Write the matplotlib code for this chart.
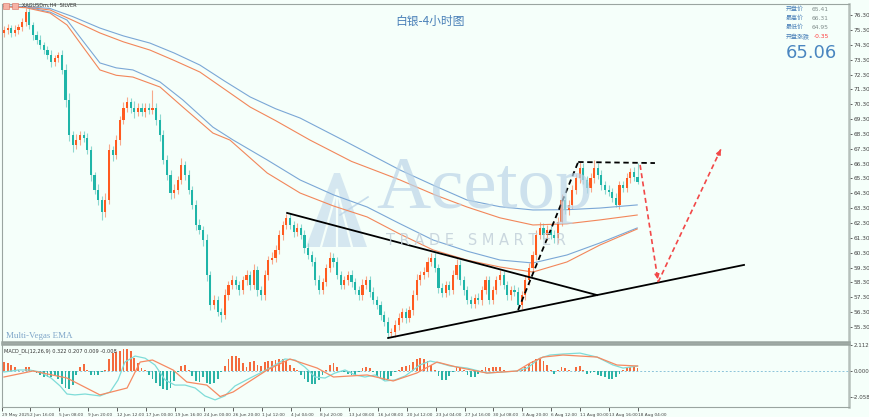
import matplotlib
matplotlib.use("Agg")
import matplotlib.pyplot as plt
import numpy as np
from matplotlib.patches import Rectangle, Polygon

plt.rcParams['font.family'] = ['DejaVu Sans', 'Noto Sans CJK SC']

# ---- data (4H silver, one candle = 2 bars) ----
first_open = 75.10
closes = [
    75.30, 75.43, 75.10, 75.30, 75.50, 75.84, 76.51, 75.64, 74.96, 74.63,
    74.29, 73.95, 73.62, 73.15, 73.41, 73.62, 72.61, 70.59, 68.23, 67.56,
    67.89, 68.23, 68.03, 67.22, 65.54, 64.53, 63.85, 63.04, 63.85, 67.22,
    66.88, 67.89, 69.24, 70.05, 70.45, 70.05, 69.78, 70.05, 69.78, 70.05,
    69.91, 70.05, 69.24, 68.23, 66.55, 65.54, 64.32, 64.53, 65.20, 66.21,
    65.54, 64.53, 63.52, 62.17, 61.83, 61.16, 58.80, 56.78, 57.12, 56.31,
    56.11, 57.45, 58.13, 58.46, 58.13, 57.79, 58.46, 58.80, 58.13, 59.14,
    57.79, 57.45, 58.80, 59.81, 59.95, 60.49, 61.50, 62.17, 62.64, 62.17,
    61.70, 61.97, 61.50, 60.62, 60.15, 59.68, 58.46, 57.79, 58.33, 59.27,
    59.95, 59.68, 58.80, 58.13, 58.46, 58.80, 58.33, 57.79, 57.45, 58.13,
    58.46, 57.66, 57.12, 56.78, 56.11, 55.64, 54.90, 54.96, 55.43, 55.91,
    56.31, 55.91, 56.44, 57.45, 58.46, 58.80, 59.00, 59.68, 59.95, 59.27,
    57.93, 57.59, 58.13, 57.79, 58.80, 59.48, 58.46, 57.79, 57.12, 56.85,
    57.25, 57.12, 57.79, 58.46, 57.12, 57.79, 58.46, 58.80, 58.13, 57.45,
    57.79, 57.66, 56.78, 57.45, 58.46, 59.27, 60.15, 61.50, 61.97, 61.50,
    61.83, 61.50, 61.29, 62.37, 63.85, 63.18, 63.52, 64.53, 65.33, 66.01,
    65.20, 64.66, 65.33, 66.01, 65.54, 64.86, 64.53, 64.39, 63.99, 63.52,
    64.86, 64.66, 65.33, 65.74, 65.41, 65.06,
]
upper_wick = [
    0.25, 0.3, 0.2, 0.35, 0.2, 0.3, 0.3, 0.4, 0.2, 0.25,
    0.3, 0.2, 0.25, 0.3, 0.2, 0.2, 0.3, 0.4, 0.5, 0.3,
    0.4, 0.3, 0.25, 0.35, 0.3, 0.2, 0.4, 0.3, 0.5, 0.4,
    0.3, 0.35, 0.3, 0.4, 0.35, 0.3, 0.45, 0.3, 0.35, 0.3,
    0.3, 1.2, 0.3, 0.4, 0.35, 0.3, 0.3, 0.4, 0.3, 0.45,
    0.3, 0.3, 0.25, 0.3, 0.4, 0.3, 0.4, 0.3, 0.35, 0.3,
    0.25, 0.4, 0.3, 0.35, 0.3, 0.3, 0.3, 0.35, 0.3, 0.4,
    0.3, 0.25, 0.35, 0.3, 0.4, 0.3, 0.35, 0.3, 0.3, 0.35,
    0.3, 0.3, 0.25, 0.3, 0.35, 0.3, 0.3, 0.35, 0.3, 0.3,
    0.4, 0.3, 0.3, 0.25, 0.3, 0.3, 0.35, 0.3, 0.3, 0.4,
    0.3, 0.25, 0.3, 0.3, 0.3, 0.25, 0.3, 0.3, 0.35, 0.3,
    0.3, 0.3, 0.3, 0.35, 0.4, 0.3, 0.35, 0.3, 0.3, 0.35,
    0.3, 0.3, 0.3, 0.3, 0.35, 0.4, 0.3, 0.3, 0.3, 0.25,
    0.3, 0.35, 0.3, 0.3, 0.25, 0.3, 0.3, 0.35, 0.3, 0.3,
    0.3, 0.35, 0.3, 0.3, 0.3, 0.35, 0.3, 0.3, 0.4, 0.3,
    0.35, 0.3, 0.3, 0.35, 0.4, 0.3, 0.3, 0.35, 0.3, 0.4,
    0.3, 0.3, 0.35, 0.55, 0.3, 0.3, 0.3, 0.35, 0.3, 0.3,
    0.3, 0.3, 0.35, 0.3, 0.35, 0.9,
]
lower_wick = [
    0.3, 0.25, 0.3, 0.2, 0.3, 0.25, 0.3, 0.3, 0.35, 0.3,
    0.25, 0.3, 0.3, 0.35, 0.3, 0.25, 0.3, 0.5, 0.4, 0.45,
    0.3, 0.35, 0.3, 0.3, 0.4, 0.3, 0.35, 0.55, 0.3, 0.3,
    0.4, 0.3, 0.35, 0.3, 0.3, 0.35, 0.4, 0.3, 0.3, 0.35,
    0.3, 0.3, 0.35, 0.4, 0.3, 0.35, 0.4, 0.3, 0.3, 0.3,
    0.35, 0.3, 0.3, 0.35, 0.3, 0.4, 0.4, 0.35, 0.3, 0.3,
    0.47, 0.3, 0.35, 0.3, 0.3, 0.35, 0.3, 0.3, 0.35, 0.3,
    0.4, 0.3, 0.3, 0.35, 0.3, 0.3, 0.3, 0.35, 0.3, 0.3,
    0.35, 0.3, 0.3, 0.35, 0.3, 0.3, 0.35, 0.3, 0.3, 0.3,
    0.3, 0.35, 0.3, 0.3, 0.3, 0.3, 0.35, 0.3, 0.3, 0.3,
    0.3, 0.35, 0.3, 0.3, 0.35, 0.3, 0.34, 0.3, 0.3, 0.3,
    0.3, 0.35, 0.3, 0.3, 0.3, 0.3, 0.3, 0.35, 0.3, 0.3,
    0.35, 0.3, 0.3, 0.35, 0.3, 0.3, 0.3, 0.35, 0.3, 0.3,
    0.3, 0.3, 0.35, 0.3, 0.3, 0.3, 0.3, 0.35, 0.3, 0.3,
    0.3, 0.3, 0.34, 0.3, 0.3, 0.3, 0.3, 0.35, 0.3, 0.3,
    0.35, 0.3, 0.3, 0.3, 0.3, 0.3, 0.35, 0.3, 0.3, 0.3,
    0.3, 0.35, 0.3, 0.3, 0.3, 0.35, 0.3, 0.3, 0.3, 0.14,
    0.3, 0.3, 0.3, 0.35, 0.3, 0.11,
]

# Vegas tunnel EMAs, (candle index, price) knots
ema_a_idx = [0, 6, 12.7, 19, 26.5, 33, 40.3, 47, 54.1, 61, 68, 75, 81.8, 93.6, 109.4, 119,
             127.9, 137, 146.1, 155.5, 164.6, 174.9]
ema_a_val = [76.90, 76.87, 76.75, 76.20, 75.43, 74.90, 74.42, 73.75, 72.94, 71.85, 70.79,
             70.00, 69.37, 67.89, 65.87, 64.80, 63.85, 63.40, 63.18, 63.20, 63.31, 63.52]
ema_b_idx = [0, 6, 12.7, 19, 26.5, 33, 40.3, 47, 54.1, 61, 68, 75, 84.5, 96, 109.4, 119,
             127.9, 137, 146.1, 155.5, 164.6, 174.9]
ema_b_val = [76.88, 76.84, 76.65, 75.95, 75.10, 74.50, 73.95, 73.25, 72.47, 71.30, 70.11,
             69.20, 67.89, 66.45, 65.20, 64.20, 63.38, 62.65, 62.17, 62.25, 62.51, 62.84]
ema_c_idx = [0, 6, 12.7, 17.4, 22, 26.5, 31, 35.6, 43.1, 49.4, 57.7, 63.3, 72.7, 81.8,
             91, 100.3, 109, 118.5, 128, 137, 146.1, 155.5, 164.6, 174.9]
ema_c_val = [76.90, 76.85, 76.51, 75.97, 74.50, 73.08, 72.75, 72.61, 71.80, 70.59, 68.76,
             67.89, 66.55, 65.20, 64.20, 63.38, 62.30, 61.16, 60.40, 59.81, 59.61, 60.15,
             60.96, 61.97]
ema_d_idx = [0, 6, 12.7, 17.4, 22, 26.5, 31, 35.6, 43.1, 49.4, 57.7, 62.4, 72.7, 81.8,
             91, 100.3, 109, 118.5, 128, 137, 146.1, 155.5, 164.6, 174.9]
ema_d_val = [76.86, 76.80, 76.44, 75.64, 74.10, 72.61, 72.25, 72.13, 71.46, 70.11, 68.36,
             67.89, 65.67, 64.32, 63.45, 62.71, 61.60, 60.49, 59.80, 59.34, 59.00, 59.68,
             60.82, 61.90]

# MACD pane
macd_hist = [
    0.7, 0.6, 0.5, 0.3, 0.05, 0.0, 0.3, 0.35, 0.1, -0.15,
    -0.3, -0.45, -0.5, -0.45, -0.3, -0.6, -1.0, -1.35, -1.4, -1.1,
    -0.3, 0.3, 0.55, 0.1, -0.3, -0.35, -0.3, -0.1, 0.05, 0.9,
    1.4, 1.5, 1.55, 1.7, 1.75, 1.6, 1.0, 0.6, 0.2, 0.05,
    -0.3, -0.6, -0.9, -1.2, -1.4, -1.5, -1.3, -0.8, -0.1, 0.4,
    0.5, 0.1, -0.4, -0.8, -0.85, -0.5, -0.9, -1.0, -0.95, -0.6,
    -0.1, 0.4, 0.9, 1.2, 1.15, 1.0, 0.6, 0.3, 0.7, 0.8,
    0.5, 0.4, 0.7, 0.75, 0.8, 0.85, 0.95, 0.9, 0.8, 0.5,
    0.2, 0.05, -0.3, -0.6, -0.85, -1.0, -1.0, -0.7, -0.3, 0.1,
    0.5, 0.6, 0.3, -0.1, -0.05, -0.2, -0.3, -0.3, -0.1, 0.2,
    0.3, 0.2, -0.1, -0.4, -0.6, -0.7, -0.65, -0.4, -0.1, 0.1,
    0.3, 0.4, 0.5, 0.7, 0.9, 1.0, 0.95, 0.8, 0.5, 0.1,
    -0.4, -0.7, -0.7, -0.4, -0.1, 0.3, 0.3, 0.1, -0.3, -0.45,
    -0.45, -0.2, 0.1, 0.3, 0.2, 0.3, 0.35, 0.3, 0.1, 0.0,
    -0.05, 0.0, 0.0, 0.1, 0.3, 0.55, 0.75, 0.9, 0.95, 0.8,
    0.5, 0.1, -0.2, 0.05, 0.3, 0.25, 0.1, 0.0, 0.3, 0.4,
    0.05, -0.2, -0.15, -0.1, -0.3, -0.4, -0.45, -0.6, -0.6, -0.45,
    -0.2, 0.1, 0.25, 0.3, 0.3, 0.25,
]
macd_idx = [0, 2, 4, 7, 10, 13, 15.5, 17.4, 19.6, 22.4, 26.5, 29.3, 31.5, 33.4, 36.2, 39, 41.7,
            44.5, 47.2, 50, 52.8, 55.5, 58.3, 61, 63.8, 68, 71.3, 74.9, 77.6, 80.4, 83.1, 85.9,
            88.7, 91.4, 94.2, 97, 99.7, 102.5, 105.2, 108, 110.8, 114.9, 117.7, 120.4, 123.2,
            127.9, 133.4, 141.7, 144.5, 148, 150.8, 154.4, 159.1, 163.8, 168.2, 171, 175]
macd_val = [-0.08, 0, 0.08, 0.08, -0.08, -0.55, -1.17, -1.8, -1.87, -1.8, -1.95, -1.64, -0.7,
            0.7, 1.17, 1.0, 0.47, -0.7, -1.1, -1.1, -1.33, -1.95, -2.26, -1.95, -1.17, -0.55,
            -0.08, 0.47, 0.94, 0.86, 0.31, -0.47, -0.55, -0.16, 0.08, -0.31, -0.47, -0.31,
            -0.78, -0.7, -0.39, 0.47, 0.78, 0.62, 0.39, 0.23, -0.16, 0.0, 0.23, 1.0, 1.25,
            1.33, 1.4, 1.09, 0.47, 0.23, 0.39]
signal_idx = [0, 8, 17.4, 26.5, 34, 37.6, 41, 46.7, 50.5, 56, 59.7, 63.3, 72.7, 79, 86.5, 91,
              100.3, 107.5, 114, 119.6, 125, 133.4, 141.7, 145.3, 148.9, 154.4, 163.8, 169.3, 175]
signal_val = [-0.47, 0.0, -0.55, -1.87, -1.33, 0.7, 0.86, 0.08, -0.86, -1.1, -2.0, -1.64, 0.08,
              0.94, 0.23, -0.47, -0.31, -0.78, -0.16, 0.7, 0.31, -0.16, 0.0, 0.62, 1.09, 1.25,
              1.09, 0.47, 0.39]

date_labels = ["29 May 2025", "2 Jun 16:00", "5 Jun 08:00", "9 Jun 20:00", "12 Jun 12:00",
               "17 Jun 00:00", "19 Jun 16:00", "24 Jun 00:00", "26 Jun 20:00", "1 Jul 12:00",
               "4 Jul 04:00", "8 Jul 20:00", "13 Jul 08:00", "16 Jul 08:00", "20 Jul 12:00",
               "23 Jul 04:00", "27 Jul 16:00", "30 Jul 08:00", "3 Aug 20:00", "6 Aug 12:00",
               "11 Aug 00:00", "13 Aug 16:00", "18 Aug 04:00"]
date_pos = [-0.5] + [7.2 + 8 * k for k in range(22)]

# drawn analysis lines (candle index, price)
falling_line = ([78.2, 163.8], [62.98, 57.45])
rising_line = ([106.1, 204.4], [54.56, 59.48])
rally_line = ([142.0, 158.6], [56.44, 66.41])
top_line = ([158.6, 179.8], [66.41, 66.34])
drop_path = ([175.7, 180.7], [66.21, 58.33])
bounce_path = ([180.7, 198.3], [58.33, 67.42])

BG = "#F5FFFA"
BULL = "#FF5A1F"
BEAR = "#1FB5A8"
BULL_W = "#F7A98C"
BEAR_W = "#8ED8D0"
EMA_BLUE = "#7BA7D6"
EMA_ORANGE = "#F2865A"
GRID = "#9AA5A0"
W, H = 870, 417


def px(x, y):
    return x / W, 1 - y / H


fig = plt.figure(figsize=(W / 100, H / 100), dpi=100, facecolor=BG)
ax = fig.add_axes([2 / W, (H - 342) / H, 847 / W, 338 / H], facecolor=BG)
axm = fig.add_axes([2 / W, (H - 407) / H, 847 / W, 63 / H], facecolor=BG)

# ---- watermark (behind everything) ----
wm = "#BCD5E8"
fig.text(*px(376, 190), "Acetop", fontsize=54, family="Liberation Serif", color=wm,
         alpha=0.7, va="center", ha="left", zorder=0)
fig.text(*px(386, 241), "T R A D E   S M A R T E R", fontsize=10.5, color="#C3D0DA",
         alpha=0.85, va="center", ha="left", zorder=0)
fig.add_artist(Polygon([px(306, 247), px(334, 173), px(340, 173), px(367, 247)],
                       closed=True, facecolor=wm, edgecolor="none", alpha=0.55,
                       transform=fig.transFigure, zorder=0))
for xb in (321, 337, 352):
    fig.add_artist(plt.Line2D([337 / W, xb / W], [1 - 190 / H, 1 - 247 / H], color=BG,
                              lw=1.6, transform=fig.transFigure, zorder=0))
fig.add_artist(plt.Line2D([340 / W, 368 / W], [1 - 215 / H, 1 - 197 / H], color=wm, lw=1.2,
                          alpha=0.8, transform=fig.transFigure, zorder=0))
ax.patch.set_alpha(0)

# ---- candles ----
c = np.array(closes)
o = np.concatenate([[first_open], c[:-1]])
idx = np.arange(len(c))
top = np.maximum(o, c)
bot = np.minimum(o, c)
hi = top + np.array(upper_wick)
lo = bot - np.array(lower_wick)
up = c >= o
ax.vlines(idx[up], lo[up], hi[up], color=BULL_W, lw=0.8, zorder=2)
ax.vlines(idx[~up], lo[~up], hi[~up], color=BEAR_W, lw=0.8, zorder=2)
body_h = np.maximum(top - bot, 0.03)
ax.bar(idx[up], body_h[up], bottom=bot[up], width=0.6, color=BULL, lw=0, zorder=3)
ax.bar(idx[~up], body_h[~up], bottom=bot[~up], width=0.6, color=BEAR, lw=0, zorder=3)

# ---- EMA tunnel ----
ax.plot(ema_a_idx, ema_a_val, color=EMA_BLUE, lw=0.8, zorder=2)
ax.plot(ema_b_idx, ema_b_val, color=EMA_ORANGE, lw=0.8, zorder=2)
ax.plot(ema_c_idx, ema_c_val, color=EMA_BLUE, lw=0.8, zorder=2)
ax.plot(ema_d_idx, ema_d_val, color=EMA_ORANGE, lw=0.8, zorder=2)

# ---- analysis lines ----
ax.plot(*falling_line, color="black", lw=1.3, zorder=5)
ax.plot(*rising_line, color="black", lw=1.3, zorder=5)
ax.plot(*rally_line, color="black", lw=1.3, ls=(0, (3, 2)), zorder=5)
ax.plot(*top_line, color="black", lw=1.3, ls=(0, (3, 2)), zorder=5)
for path in (drop_path, bounce_path):
    ax.plot(*path, color="#F24848", lw=1.2, ls=(0, (3, 2)), zorder=5)
    ax.annotate("", xy=(path[0][1], path[1][1]),
                xytext=(path[0][1] - (path[0][1] - path[0][0]) * 0.08,
                        path[1][1] - (path[1][1] - path[1][0]) * 0.08),
                arrowprops=dict(arrowstyle="-|>", color="#F24848", lw=1.0,
                                mutation_scale=7), zorder=6)

ax.set_xlim(-0.55, 233.4)
ax.set_ylim(54.29, 77.05)
ax.yaxis.tick_right()
price_ticks = np.arange(55.3, 76.31, 1.0)
ax.set_yticks(price_ticks)
ax.set_yticklabels([f"{t:.2f}" for t in price_ticks])
ax.tick_params(axis="y", length=2, labelsize=4.2, colors="#444444", pad=1, width=0.6)
ax.set_xticks([])
for s in ax.spines.values():
    s.set_color(GRID)
    s.set_linewidth(0.8)
ax.spines["right"].set_linewidth(1.8)
ax.spines["right"].set_color("#B6C0BB")
ax.spines["bottom"].set_linewidth(1.8)

# ---- MACD pane ----
hist = np.array(macd_hist)
hidx = np.arange(len(hist))
pos = hist >= 0
axm.bar(hidx[pos], hist[pos], width=0.5, color="#F46A3C", lw=0)
axm.bar(hidx[~pos], hist[~pos], width=0.5, color="#2BB3A6", lw=0)
axm.plot(macd_idx, macd_val, color="#7FDCD8", lw=0.9)
axm.plot(signal_idx, signal_val, color="#F58A62", lw=0.9)
axm.axhline(0, color="#8CC4DA", lw=0.7, ls=(0, (2, 2)), zorder=0)
axm.set_xlim(-0.55, 233.4)
axm.set_ylim(-2.816, 2.112)
axm.yaxis.tick_right()
axm.set_yticks([2.0, 0.0, -2.058])
axm.set_yticklabels(["2.112", "0.000", "-2.058"])
axm.tick_params(axis="y", length=2, labelsize=4.0, colors="#444444", pad=1, width=0.6)
axm.set_xticks(date_pos)
axm.set_xticklabels(date_labels)
axm.tick_params(axis="x", length=3, labelsize=3.1, colors="#444444", pad=1, width=0.6)
for lbl in axm.get_xticklabels():
    lbl.set_ha("left")
for s in axm.spines.values():
    s.set_color(GRID)
    s.set_linewidth(0.8)
axm.spines["right"].set_linewidth(1.8)
axm.spines["right"].set_color("#B6C0BB")
axm.spines["top"].set_linewidth(1.8)
axm.text(0.002, 0.93, "MACD_DL(12,26,9) 0.322 0.207 0.009 -0.008", transform=axm.transAxes,
         fontsize=3.6, color="#333333", va="top")

# ---- texts ----
fig.text(*px(430, 21), "白银-4小时图", fontsize=8.5, color="#4A80B8", ha="center",
         va="center", family=["Noto Sans CJK SC"])
fig.text(*px(6, 336), "Multi-Vegas EMA", fontsize=6.5, family="Liberation Serif",
         color="#7FA6C9", va="center")
fig.text(*px(22, 5), "XAGUSDm,H4  SILVER", fontsize=3.6, color="#333333", va="center")
fig.add_artist(Rectangle(px(3, 9), 6 / W, 6 / H, transform=fig.transFigure,
                         facecolor="#F6B2A4", edgecolor="#D97060", lw=0.4))
fig.add_artist(Rectangle(px(12, 9), 6 / W, 6 / H, transform=fig.transFigure,
                         facecolor="#F6B2A4", edgecolor="#D97060", lw=0.4))

info_lbl = ["开盘价", "最高价", "最低价", "开盘涨跌"]
info_val = ["65.41", "66.31", "64.95", "-0.35"]
for k, (lb, vl) in enumerate(zip(info_lbl, info_val)):
    yy = 9.5 + k * 9
    fig.text(*px(786, yy), lb, fontsize=4.3, color="#4A80B8", va="center",
             family=["Noto Sans CJK SC"])
    fig.text(*px(829, yy), vl, fontsize=4.3, va="center", ha="right",
             color="#FF3B3B" if k == 3 else "#7F8C8A")
fig.text(*px(786, 53), "65.06", fontsize=13, color="#4A86C0", va="center")

fig.savefig("out.png", dpi=100, facecolor=BG)
